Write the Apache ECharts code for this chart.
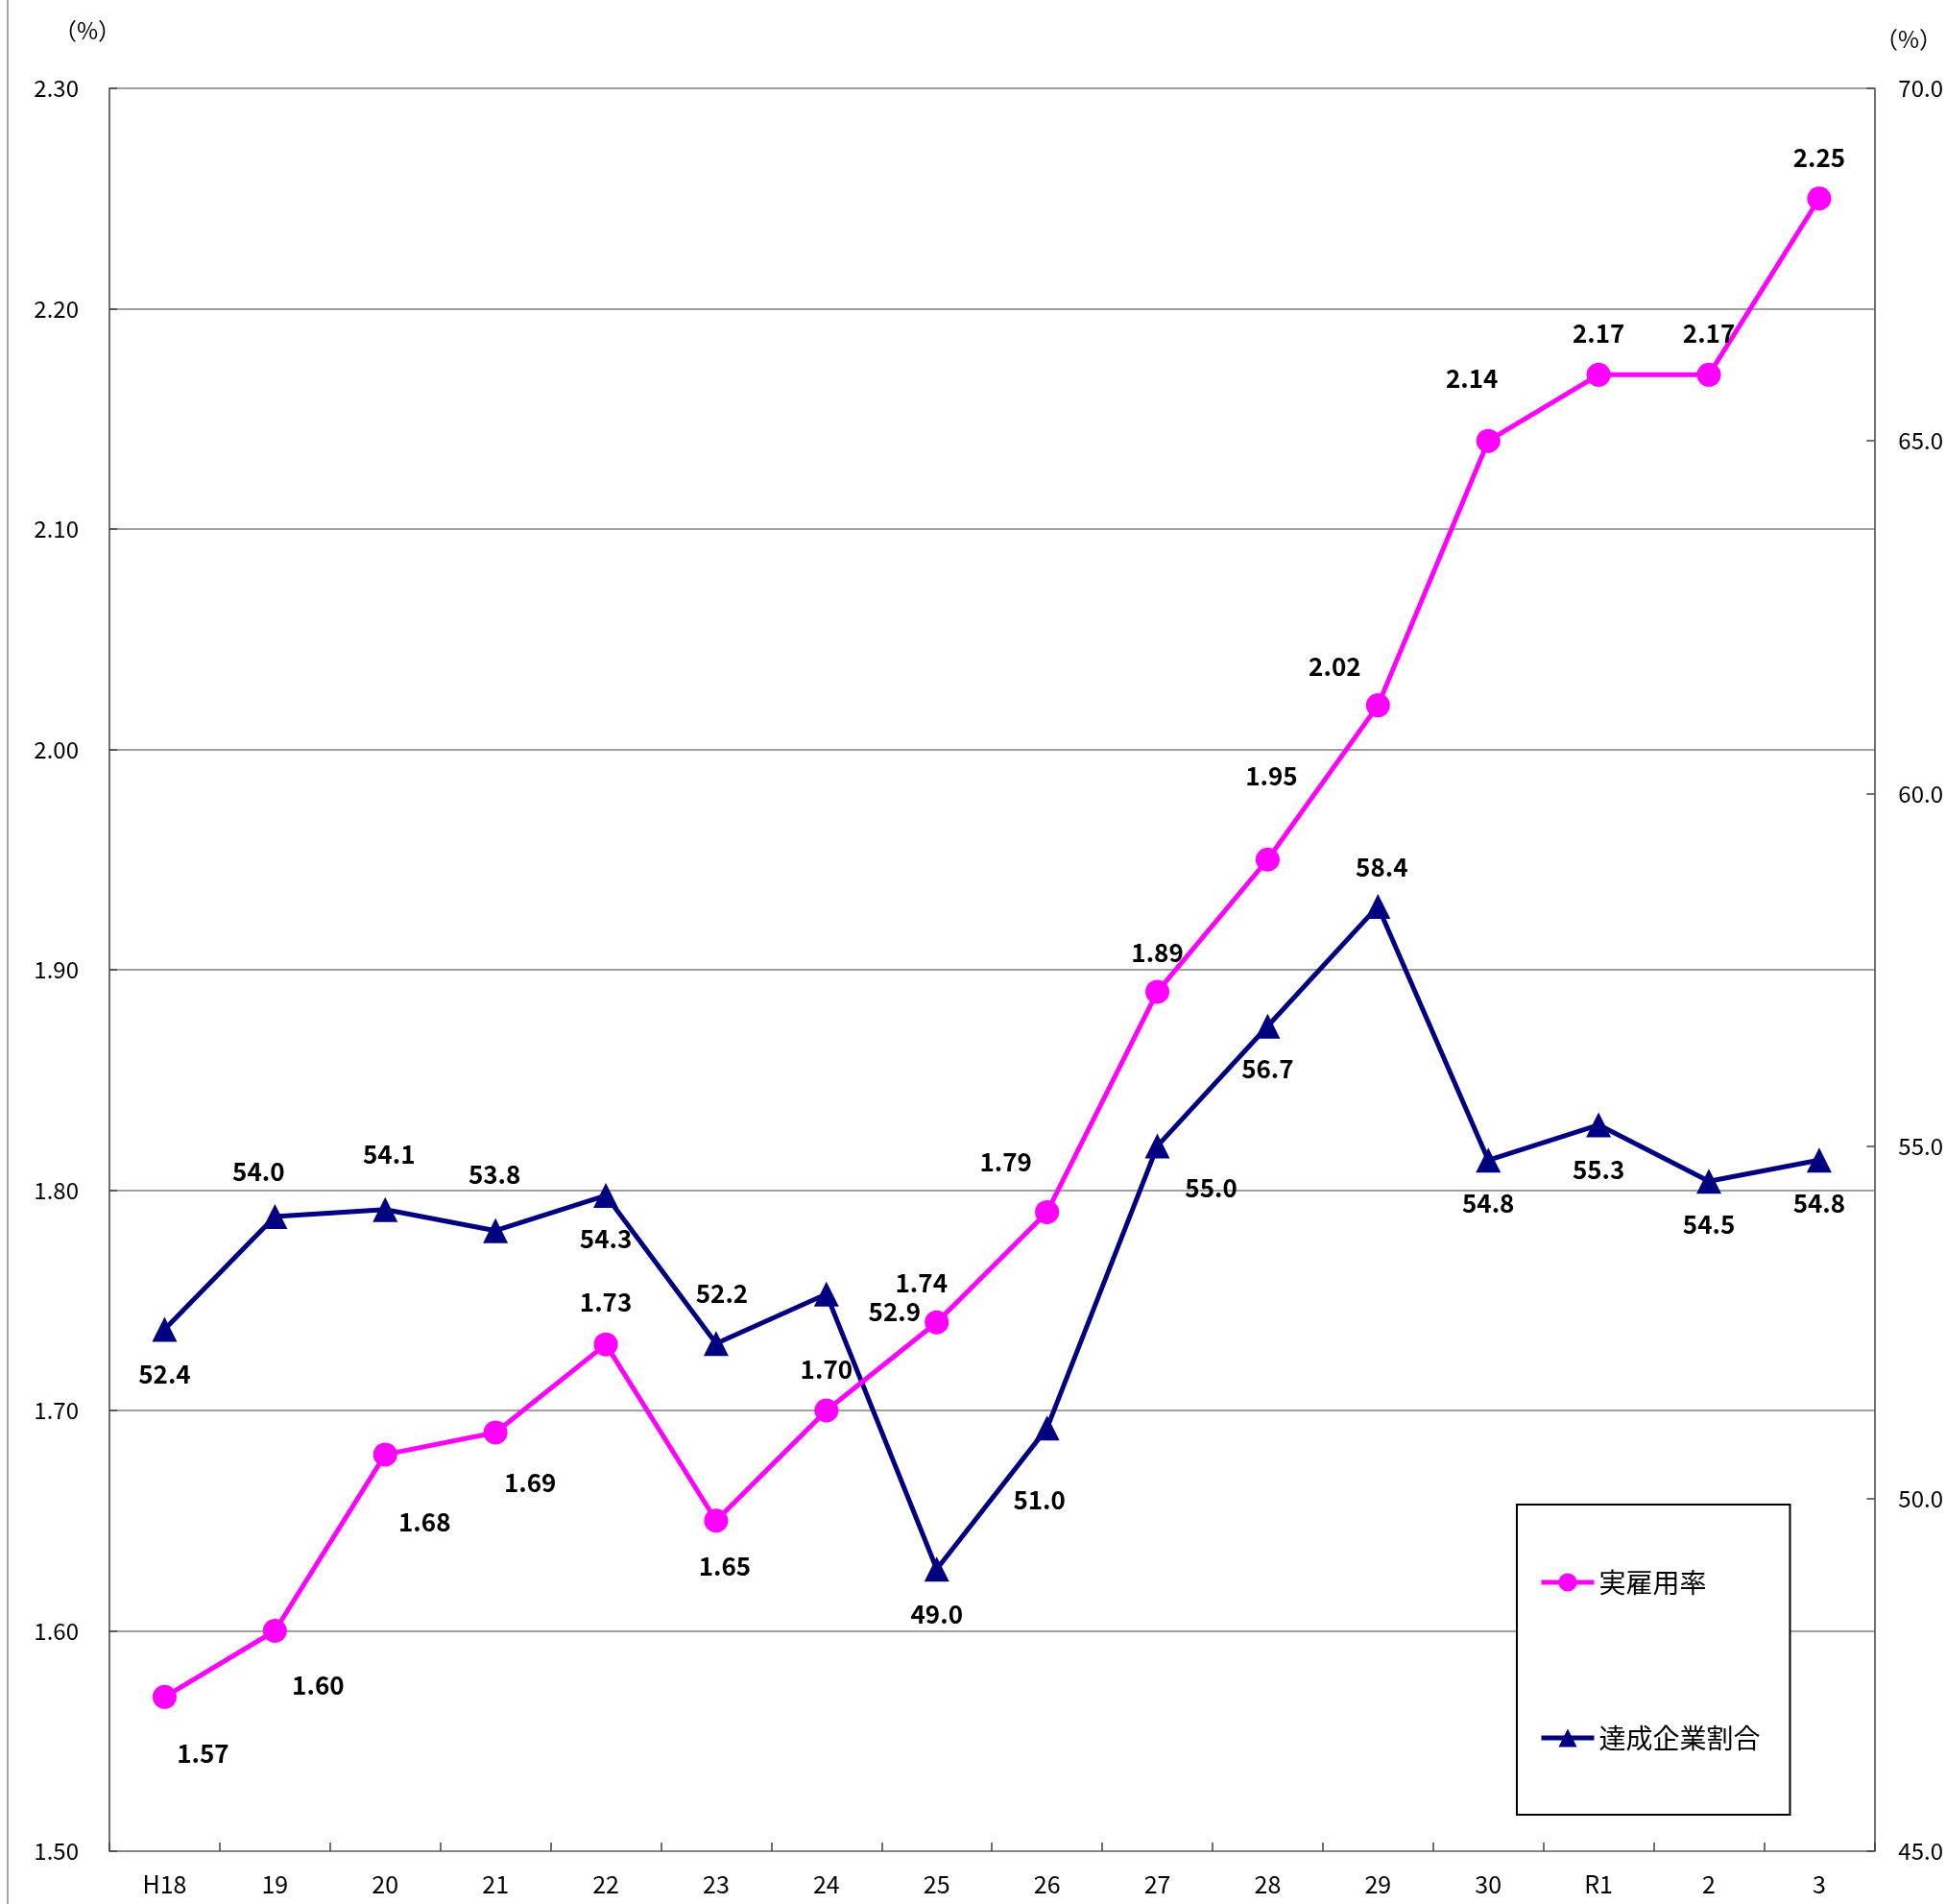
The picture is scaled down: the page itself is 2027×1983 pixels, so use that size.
<!DOCTYPE html>
<html>
<head>
<meta charset="utf-8">
<script src="https://cdn.jsdelivr.net/npm/echarts@6/dist/echarts.min.js"></script>
<style>
html, body { margin: 0; padding: 0; background: #fff; }
#chart { width: 2027px; height: 1983px; }
</style>
</head>
<body>
<div id="chart"></div>
<script>
// 年度
var years = ['H18', '19', '20', '21', '22', '23', '24', '25', '26', '27', '28', '29', '30', 'R1', '2', '3'];
// 実雇用率 (%)
var rateValues = [1.57, 1.60, 1.68, 1.69, 1.73, 1.65, 1.70, 1.74, 1.79, 1.89, 1.95, 2.02, 2.14, 2.17, 2.17, 2.25];
// 達成企業割合 (%)
var ratioValues = [52.4, 54.0, 54.1, 53.8, 54.3, 52.2, 52.9, 49.0, 51.0, 55.0, 56.7, 58.4, 54.8, 55.3, 54.5, 54.8];

// label placement (px from point)
var rateLabelOffsets = [[40, 59], [45, 57], [41, 70], [36, 52], [0, -44], [9, 47], [0, -43], [-16, -41],
    [-43, -52], [0, -41], [4, -87], [-45, -40], [-17, -65], [0, -43], [0, -43], [0, -43]];
var ratioLabelOffsets = [[0, 47], [-17, -47], [4, -58], [-1, -59], [0, 45], [6, -52], [71, 18], [0, 47],
    [-8, 75], [56, 44], [0, 44], [4, -41], [0, 45], [0, 47], [0, 45], [0, 45]];

var FONT = "'Noto Sans CJK JP', 'Noto Sans', sans-serif";

var rateData = [];
var ratioData = [];
rateValues.forEach(function (v, i) {
    rateData.push({ value: v, label: { offset: rateLabelOffsets[i] } });
});
ratioValues.forEach(function (v, i) {
    ratioData.push({ value: v, label: { offset: ratioLabelOffsets[i] } });
});

var dom = document.getElementById('chart');
var myChart = echarts.init(dom);

var option = {
    animation: false,
    textStyle: { fontFamily: FONT },
    grid: { left: 114, right: 74, top: 92, bottom: 55 },
    graphic: [
        { type: 'line', shape: { x1: 8, y1: 0, x2: 8, y2: 1983 }, style: { stroke: '#888', lineWidth: 1.5 } },
        { type: 'text', left: 56, top: 20, style: { text: '（%）', font: '24px ' + FONT, fill: '#000' } },
        { type: 'text', left: 1953, top: 29, style: { text: '（%）', font: '24px ' + FONT, fill: '#000' } }
    ],
    legend: {
        orient: 'vertical',
        left: 1580,
        top: 1567,
        padding: [67, 31, 66, 23],
        itemGap: 134,
        itemWidth: 55,
        itemHeight: 24,
        backgroundColor: '#fff',
        borderColor: '#000',
        borderWidth: 2,
        lineStyle: { width: 5 },
        textStyle: { fontSize: 28, color: '#000', lineHeight: 28, fontFamily: FONT },
        data: ['実雇用率', '達成企業割合']
    },
    xAxis: {
        type: 'category',
        data: years,
        boundaryGap: true,
        axisLine: { lineStyle: { color: '#808080', width: 1.5 } },
        axisTick: { show: true, inside: true, length: 9, interval: 0, lineStyle: { color: '#404040', width: 1.5 } },
        axisLabel: { color: '#000', fontSize: 25, margin: 22, interval: 0 }
    },
    yAxis: [
        {
            type: 'value',
            min: 1.5,
            max: 2.3,
            interval: 0.1,
            axisLine: { show: true, lineStyle: { color: '#404040', width: 1.5 } },
            axisTick: { show: true, inside: true, length: 8, lineStyle: { color: '#404040', width: 1.5 } },
            axisLabel: { color: '#000', fontSize: 24, margin: 32, formatter: function (v) { return v.toFixed(2); } },
            splitLine: { show: true, lineStyle: { color: '#808080', width: 1.5 } }
        },
        {
            type: 'value',
            min: 45,
            max: 70,
            interval: 5,
            position: 'right',
            axisLine: { show: true, lineStyle: { color: '#404040', width: 1.5 } },
            axisTick: { show: true, inside: true, length: 8, lineStyle: { color: '#404040', width: 1.5 } },
            axisLabel: { color: '#000', fontSize: 24, margin: 25, formatter: function (v) { return v.toFixed(1); } },
            splitLine: { show: false }
        }
    ],
    series: [
        {
            name: '実雇用率',
            type: 'line',
            yAxisIndex: 0,
            data: rateData,
            symbol: 'circle',
            symbolSize: 25,
            itemStyle: { color: '#FF00FF' },
            lineStyle: { color: '#FF00FF', width: 5 },
            label: {
                show: true,
                position: 'inside',
                color: '#000',
                fontSize: 26,
                fontWeight: 'bold',
                fontFamily: FONT,
                formatter: function (p) { return p.value.toFixed(2); }
            },
            z: 3
        },
        {
            name: '達成企業割合',
            type: 'line',
            yAxisIndex: 1,
            data: ratioData,
            symbol: 'triangle',
            symbolSize: 26,
            itemStyle: { color: '#000080' },
            lineStyle: { color: '#000080', width: 5 },
            label: {
                show: true,
                position: 'inside',
                color: '#000',
                fontSize: 26,
                fontWeight: 'bold',
                fontFamily: FONT,
                formatter: function (p) { return p.value.toFixed(1); }
            },
            z: 2
        }
    ]
};

if (option && typeof option === 'object') {
    myChart.setOption(option, true);
}
</script>
</body>
</html>
